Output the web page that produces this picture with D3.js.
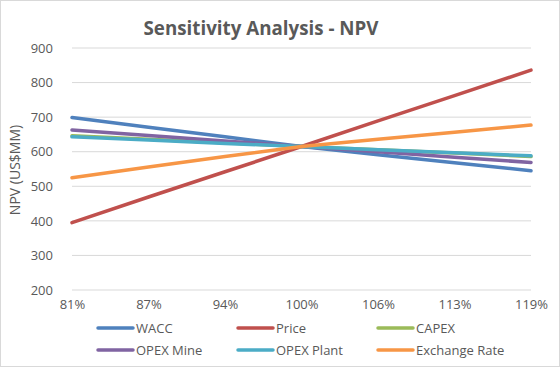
<!DOCTYPE html>
<html><head><meta charset="utf-8">
<script src="https://cdn.jsdelivr.net/npm/d3@7"></script>
<style>body{margin:0;background:#fff;}svg{display:block;}text{font-family:"Open Sans","Liberation Sans",sans-serif;fill:#595959;}</style>
</head><body><svg id="c" width="560" height="367"></svg>
<script>
const categories = ["81%","87%","94%","100%","106%","113%","119%"];
const yTicks = [200,300,400,500,600,700,800,900];
const seriesNames = ["WACC","Price","CAPEX","OPEX Mine","OPEX Plant","Exchange Rate"];
const seriesColors = ["#4F81BD","#C0504D","#9BBB59","#8064A2","#4BACC6","#F79646"];
const wacc = [699, 671, 643, 615, 591, 568, 545];
const price = [395, 469, 542, 615, 689, 762, 836];
const capex = [646, 636, 626, 615, 606, 596, 586];
const opexMine = [663, 647, 631, 615, 600, 584, 569];
const opexPlant = [643, 634, 624, 615, 606, 597, 588];
const exchangeRate = [525, 556, 586, 615, 636, 656, 677];
const seriesValues = [wacc, price, capex, opexMine, opexPlant, exchangeRate];

const svg = d3.select("#c");
svg.append("rect").attr("x",0.5).attr("y",0.5).attr("width",559).attr("height",366)
  .attr("fill","#fff").attr("stroke","#d9d9d9");

const x = d3.scalePoint().domain(categories).range([72,531]);
const y = d3.scaleLinear().domain([200,900]).range([290,48]);

// gridlines
svg.append("g").selectAll("line").data(yTicks).join("line")
  .attr("x1",72).attr("x2",531).attr("y1",d=>y(d)).attr("y2",d=>y(d))
  .attr("stroke","#d9d9d9").attr("stroke-width",1);

// y axis
const ya = svg.append("g").attr("transform","translate(72,0)")
  .call(d3.axisLeft(y).tickValues(yTicks).tickSize(0).tickPadding(19));
ya.select(".domain").remove();
ya.selectAll("text").attr("font-size",13).style("fill","#595959").attr("font-family","'Open Sans',sans-serif");

// x axis
const xa = svg.append("g").attr("transform","translate(0,290)")
  .call(d3.axisBottom(x).tickSize(0).tickPadding(10));
xa.select(".domain").remove();
xa.selectAll("text").attr("font-size",13).style("fill","#595959").attr("font-family","'Open Sans',sans-serif");

// title
svg.append("text").attr("x",261).attr("y",35).attr("text-anchor","middle")
  .attr("font-size",19).attr("font-weight","bold").style("fill","#595959")
  .attr("textLength",235).attr("lengthAdjust","spacingAndGlyphs")
  .text("Sensitivity Analysis - NPV");

// y title
svg.append("text").attr("transform","translate(20,170) rotate(-90)")
  .attr("text-anchor","middle").attr("font-size",14).style("fill","#595959")
  .text("NPV (US$MM)");

// lines
const line = d3.line().x((d,i)=>x(categories[i])).y(d=>y(d));
svg.append("g").selectAll("path").data(seriesValues).join("path")
  .attr("d",line).attr("fill","none")
  .attr("stroke",(d,i)=>seriesColors[i]).attr("stroke-width",3.5)
  .attr("stroke-linejoin","round").attr("stroke-linecap","round");

// legend
const lg = svg.append("g");
seriesNames.forEach((n,i)=>{
  const col = i%3, row = Math.floor(i/3);
  const lx = 98 + col*140, ly = 328 + row*22;
  lg.append("line").attr("x1",lx).attr("x2",lx+35).attr("y1",ly).attr("y2",ly)
    .attr("stroke",seriesColors[i]).attr("stroke-width",3.5).attr("stroke-linecap","round");
  lg.append("text").attr("x",lx+38).attr("y",ly+4.5).attr("font-size",13)
    .style("fill","#595959").text(n);
});
</script></body></html>
